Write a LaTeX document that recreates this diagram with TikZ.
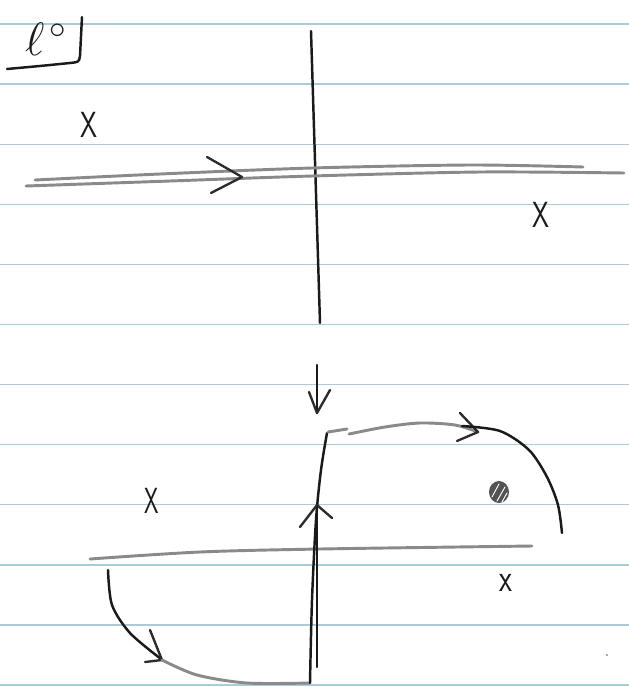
\RequirePackage{fix-cm}
\documentclass[tikz,border=0pt]{standalone}
\usepackage{amsmath,amssymb}
\usepackage{tikz}
\usetikzlibrary{arrows.meta, calc}
\usepackage{xcolor}
\definecolor{ruling}{HTML}{A9CCDD}
\definecolor{pencil}{HTML}{8A8A8A}
\definecolor{ink}{HTML}{1A1A1A}
\tikzset{
  % paper
  ruleline/.style={
    draw=ruling, line width=1.1pt
  },
  % pen and pencil strokes
  inkline/.style={
    draw=ink, line width=2.1pt,
    line cap=round, line join=round
  },
  pencilline/.style={
    draw=pencil, line width=2.5pt,
    line cap=round, line join=round
  },
  headstroke/.style={
    draw=ink!85!pencil, line width=2pt,
    line cap=round, line join=round
  },
  % hand-written marks
  marklabel/.style={
    font=\sffamily\mdseries\fontsize{31}{33}\selectfont,
    text=ink, inner sep=0pt, xscale=0.75, draw=none
  },
  smallmark/.style={
    marklabel, font=\sffamily\fontsize{34}{36}\selectfont, xscale=1
  }
}

\begin{document}
\begin{tikzpicture}[x=0.03cm, y=-0.03cm]

  \useasboundingbox (0,0) rectangle (629,687);
  \fill[white] (0,0) rectangle (629,687);

  % --- ruled paper ---
  \foreach \k in {0,...,11}
    \draw[ruleline] (0,{24+60.1*\k}) -- (629,{24+60.1*\k});

  % --- title corner ---
  \node[font=\fontsize{40}{44}\selectfont, text=ink, inner sep=0pt]
    (title) at (46,39) {$\ell^{\,\circ}$};
  \draw[inkline] (82,17) -- (80,56) .. controls (79,62) .. (70,63)
    .. controls (40,66) .. (7,69);

  % --- upper picture ---
  \draw[inkline] (311,31) -- (320,323);
  \draw[pencilline] plot[smooth] coordinates
    {(35,180) (160,174) (312,168) (470,165) (583,167)};
  \draw[pencilline] plot[smooth] coordinates
    {(26,186) (170,181) (312,176) (480,172) (624,173)};
  \coordinate (up_tip) at (242,177);
  \draw[headstroke] (207,157) -- (up_tip) -- (211,193);

  \node[marklabel] (mark_nw) at (89,125) {X};
  \node[marklabel] (mark_ne) at (541,215) {X};

  % --- arrow between the two ---
  \coordinate (down_top) at (317,365);
  \coordinate (down_tip) at (317,413);
  \draw[inkline] (down_top) -- (down_tip);
  \draw[headstroke] (309,392) -- (down_tip) -- (330,390);

  % --- lower picture ---
  \draw[pencilline] plot[smooth] coordinates
    {(90,559) (200,552) (320,549) (532,546)};

  % contour: left arc
  \draw[inkline] plot[smooth] coordinates
    {(108,570) (112,605) (130,633) (161,659)};
  \coordinate (left_tip) at (162,660);
  \draw[headstroke] (150,630) -- (left_tip) -- (145,662);
  \draw[pencilline] plot[smooth] coordinates
    {(left_tip) (197,675) (247,683) (310,683)};

  % contour: vertical part
  \draw[inkline] plot[smooth] coordinates
    {(310,683) (312,600) (316,520) (321,470) (327,433)};
  \coordinate (vert_tip) at (317,505);
  \draw[inkline] (317,667) -- (vert_tip);
  \draw[headstroke] (300,527) -- (vert_tip) -- (332,518);

  % contour: upper part and right arc
  \draw[pencilline] (328,432) -- (347,429);
  \draw[pencilline] plot[smooth] coordinates
    {(349,434) (385,427) (420,423) (455,425) (478,432)};
  \coordinate (right_tip) at (478,432);
  \draw[headstroke] (460,413) -- (right_tip) -- (457,441);
  \draw[inkline] plot[smooth] coordinates
    {(462,426) (500,431) (529,450) (547,477) (558,505) (562,533)};

  % pole
  \fill[pencil!60!black] (499,492) ellipse (10 and 11);
  \draw[white, line width=0.8pt, line cap=round] (492,497) -- (499,484)
    (497,501) -- (505,487) (502,502) -- (507,493);

  \node[marklabel, xscale=0.85] (mark_sw) at (152,501) {X};
  \node[smallmark] (mark_se) at (506,583) {x};

  % speck
  \fill[pencil] (607,655) circle (1.2);

\end{tikzpicture}
\end{document}
